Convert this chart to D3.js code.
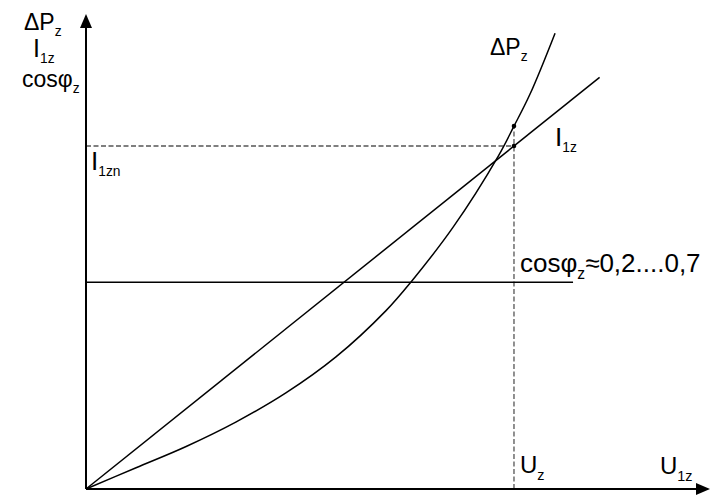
<!DOCTYPE html>
<html>
<head>
<meta charset="utf-8">
<script src="https://cdn.jsdelivr.net/npm/d3@7"></script>
<style>
  html, body { margin: 0; padding: 0; background: #fff; }
  svg { display: block; }
  text { font-family: Arial, "Liberation Sans", sans-serif; fill: #000; }
</style>
</head>
<body>
<svg id="chart" width="713" height="497"></svg>
<script>
// Relative voltage U1z (1 = Uz) and the quantities plotted against it
const axisMaxU = 1.458;
const axisMaxY = 1.385;

// Primary current I1z: straight line from the origin
const currentU = [0, 1.2];
const currentI = [0, 1.2];

// Losses ΔPz: rising curve
const lossU = [0, 0.117, 0.234, 0.35, 0.467, 0.584, 0.701, 0.759, 0.857, 0.963, 1.0, 1.037, 1.096];
const lossP = [0, 0.062, 0.124, 0.195, 0.280, 0.385, 0.520, 0.603, 0.762, 0.970, 1.058, 1.150, 1.329];

// Power factor cosφz: constant level
const cosU = [0, 1.138];
const cosLevel = [0.603, 0.603];

// Rated point: Uz with I1zn
const ratedU = 1.0;
const ratedI = 1.0;
const ratedLoss = lossP[lossU.indexOf(ratedU)];

const svg = d3.select("#chart");
const x = d3.scaleLinear().domain([0, axisMaxU]).range([86, 710]);
const y = d3.scaleLinear().domain([0, 1]).range([489, 146]);

const line = d3.line().x(d => x(d[0])).y(d => y(d[1]));
const curve = d3.line().x(d => x(d[0])).y(d => y(d[1])).curve(d3.curveCatmullRom.alpha(0.5));

// Dashed guides to the rated point
svg.append("path")
  .attr("d", line([[0, ratedI], [ratedU, ratedI]]))
  .attr("fill", "none").attr("stroke", "#555").attr("stroke-width", 1.3)
  .attr("stroke-dasharray", "5,2.5");
svg.append("path")
  .attr("d", line([[ratedU, 0], [ratedU, ratedLoss]]))
  .attr("fill", "none").attr("stroke", "#555").attr("stroke-width", 1.3)
  .attr("stroke-dasharray", "5,2.5");

// Axes with arrowheads
const axisG = svg.append("g");
axisG.append("path")
  .attr("d", line([[0, 0], [0, axisMaxY - 0.04]]))
  .attr("stroke", "#000").attr("stroke-width", 2).attr("fill", "none");
axisG.append("path")
  .attr("d", line([[0, 0], [axisMaxU - 0.03, 0]]))
  .attr("stroke", "#000").attr("stroke-width", 2).attr("fill", "none");
const yTip = y(axisMaxY), x0 = x(0);
axisG.append("path")
  .attr("d", `M${x0},${yTip} L${x0 - 6},${yTip + 14} L${x0 + 6},${yTip + 14} Z`)
  .attr("fill", "#000");
const xTip = x(axisMaxU), y0 = y(0);
axisG.append("path")
  .attr("d", `M${xTip},${y0} L${xTip - 14},${y0 - 6} L${xTip - 14},${y0 + 6} Z`)
  .attr("fill", "#000");

// Curves
svg.append("path")
  .attr("d", line(d3.zip(cosU, cosLevel)))
  .attr("fill", "none").attr("stroke", "#000").attr("stroke-width", 1.5);
svg.append("path")
  .attr("d", line(d3.zip(currentU, currentI)))
  .attr("fill", "none").attr("stroke", "#000").attr("stroke-width", 1.5);
svg.append("path")
  .attr("d", curve(d3.zip(lossU, lossP)))
  .attr("fill", "none").attr("stroke", "#000").attr("stroke-width", 1.5);

// Markers at the rated voltage
svg.selectAll("circle.pt")
  .data([[ratedU, ratedI], [ratedU, ratedLoss]])
  .join("circle")
  .attr("class", "pt")
  .attr("cx", d => x(d[0])).attr("cy", d => y(d[1])).attr("r", 2.3)
  .attr("fill", "#000");

// Labels with subscripts
function label(px, py, main, sub, rest, size, mainSize) {
  const t = svg.append("text").attr("x", px).attr("y", py).style("font-size", size + "px");
  t.append("tspan").text(main).style("font-size", (mainSize || size) + "px");
  t.append("tspan").text(sub).attr("dy", size * 0.28).style("font-size", (size * 0.6) + "px");
  if (rest) t.append("tspan").text(rest).attr("dy", -size * 0.28);
  return t;
}

label(24, 30, "ΔP", "z", null, 23);
label(33, 57, "I", "1z", null, 23, 25);
label(22, 87, "cosφ", "z", null, 23);
label(91, 170, "I", "1zn", null, 23, 26);
label(490, 55, "ΔP", "z", null, 23);
label(555, 146, "I", "1z", null, 23, 26);
label(520, 272, "cosφ", "z", "≈0,2....0,7", 26);
label(520, 473, "U", "z", null, 24);
label(660, 474, "U", "1z", null, 24);
</script>
</body>
</html>
